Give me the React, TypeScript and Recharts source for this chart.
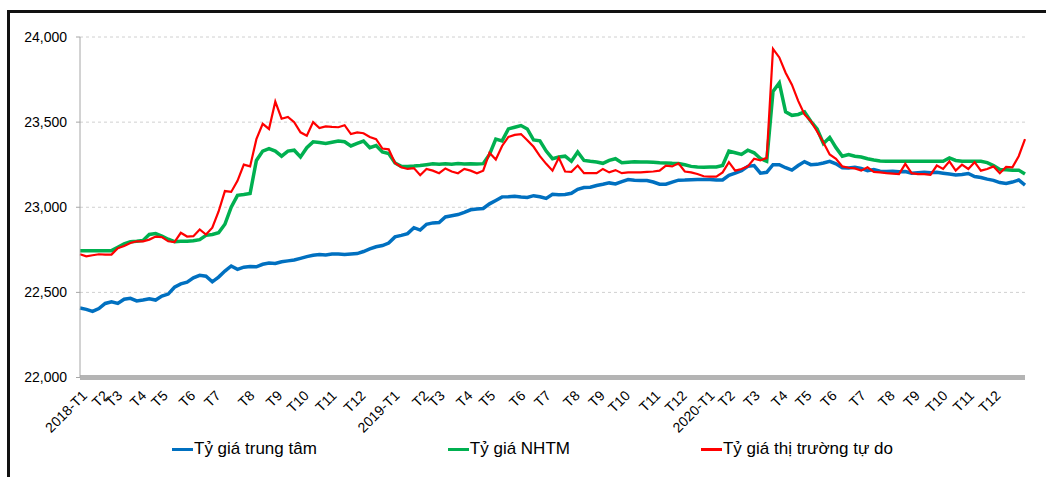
import {
  CartesianGrid,
  Legend,
  Line,
  LineChart,
  ReferenceLine,
  XAxis,
  YAxis,
} from "recharts";

const FONT = "'Liberation Sans', Arial, sans-serif";

// month labels on the category axis and the trading-day index where each month starts
const monthLabels = [
  "2018-T1", "T2", "T3", "T4", "T5", "T6", "T7", "T8", "T9", "T10", "T11", "T12",
  "2019-T1", "T2", "T3", "T4", "T5", "T6", "T7", "T8", "T9", "T10", "T11", "T12",
  "2020-T1", "T2", "T3", "T4", "T5", "T6", "T7", "T8", "T9", "T10", "T11", "T12",
];
const monthStartDay = [
  0, 17, 28, 47, 64, 86, 106, 133, 155, 176, 198, 221,
  248, 271, 284, 306, 324, 348, 368, 391, 411, 431, 455, 476,
  498, 514, 534, 556, 575, 595, 618, 641, 661, 683, 704, 725,
];

const yTicks = [22000, 22500, 23000, 23500, 24000];

// one reading every 5 trading days (roughly weekly)
const STEP = 5;

const tyGiaTrungTam = [
  22408, 22400, 22388, 22405, 22435, 22445, 22435, 22460, 22465, 22450,
  22455, 22462, 22455, 22478, 22490, 22530, 22550, 22560, 22585, 22600,
  22595, 22562, 22590, 22625, 22655, 22635, 22648, 22652, 22650, 22665,
  22673, 22670, 22680, 22685, 22690, 22700, 22710, 22718, 22722, 22720,
  22725, 22725, 22722, 22726, 22728, 22740, 22755, 22768, 22775, 22790,
  22826, 22835, 22845, 22880, 22866, 22900, 22908, 22910, 22943, 22950,
  22957, 22970, 22985, 22990, 22993, 23020, 23040, 23061, 23062, 23065,
  23060, 23057, 23068, 23062, 23052, 23076, 23073, 23075, 23082, 23105,
  23116, 23118, 23128, 23135, 23143, 23137, 23150, 23163, 23158, 23157,
  23157, 23148, 23135, 23135, 23148, 23159, 23160, 23162, 23163, 23163,
  23163, 23160, 23160, 23188, 23200, 23215, 23240, 23245, 23200, 23205,
  23250, 23250, 23232, 23218, 23245, 23268, 23250, 23252, 23260, 23270,
  23255, 23232, 23230, 23235, 23228, 23215, 23222, 23212, 23210, 23212,
  23208, 23210, 23200, 23203, 23205, 23202, 23205, 23200, 23195, 23190,
  23192, 23198, 23180, 23175, 23165, 23158, 23145, 23140, 23148, 23160, 23130,
];

const tyGiaNHTM = [
  22745, 22745, 22745, 22745, 22745, 22745, 22765, 22785, 22797, 22800,
  22805, 22840, 22845, 22830, 22812, 22798, 22800, 22800, 22803, 22810,
  22835, 22840, 22850, 22900, 23000, 23070, 23075, 23081, 23275, 23330,
  23345, 23330, 23300, 23330, 23335, 23295, 23350, 23384, 23380, 23375,
  23382, 23389, 23385, 23360, 23375, 23389, 23350, 23362, 23325, 23315,
  23260, 23240, 23240, 23242, 23245, 23250, 23255, 23252, 23255, 23253,
  23257, 23254, 23255, 23254, 23256, 23310, 23400, 23390, 23460, 23470,
  23480, 23460, 23395, 23390, 23330, 23285, 23295, 23300, 23270, 23325,
  23275, 23270, 23266, 23258, 23275, 23285, 23262, 23265, 23267, 23266,
  23266, 23265, 23262, 23260, 23258, 23257, 23250, 23240, 23236, 23235,
  23236, 23237, 23245, 23330, 23320, 23310, 23335, 23320, 23286, 23270,
  23680, 23730, 23560, 23540, 23545, 23560, 23505, 23460, 23375, 23410,
  23350, 23300, 23310, 23300, 23295, 23285, 23278, 23272, 23270, 23270,
  23270, 23270, 23270, 23270, 23270, 23270, 23270, 23270, 23290, 23275,
  23270, 23270, 23270, 23270, 23262, 23245, 23222, 23220, 23218, 23218, 23195,
];

const tyGiaTuDo = [
  22724, 22712, 22718, 22724, 22722, 22722, 22760, 22772, 22790, 22800,
  22800, 22810, 22828, 22825, 22800, 22795, 22850, 22828, 22830, 22870,
  22840, 22880, 22975, 23095, 23090, 23155, 23250, 23240, 23400, 23490,
  23460, 23620, 23520, 23530, 23500, 23440, 23420, 23500, 23465, 23475,
  23472, 23470, 23482, 23430, 23440, 23435, 23413, 23400, 23345, 23340,
  23260, 23235, 23225, 23230, 23188, 23225, 23215, 23200, 23228, 23210,
  23200, 23225, 23215, 23200, 23215, 23320, 23280, 23360, 23413, 23425,
  23430, 23394, 23355, 23300, 23255, 23215, 23290, 23210, 23208, 23245,
  23200, 23200, 23200, 23225, 23205, 23218, 23200, 23205, 23205, 23205,
  23208, 23210, 23215, 23245, 23240, 23258, 23210, 23205, 23195, 23182,
  23180, 23180, 23205, 23265, 23215, 23225, 23240, 23285, 23275, 23290,
  23930, 23880, 23790, 23720, 23625, 23545, 23505, 23445, 23380, 23310,
  23285, 23240, 23232, 23228, 23215, 23235, 23208, 23205, 23200, 23198,
  23195, 23255, 23200, 23195, 23195, 23190, 23245, 23225, 23270, 23215,
  23250, 23225, 23265, 23215, 23225, 23240, 23200, 23237, 23235, 23300, 23400,
];

const series = [
  { key: "tt", name: "Tỷ giá trung tâm", color: "#0070C0", width: 3.5 },
  { key: "nhtm", name: "Tỷ giá NHTM", color: "#00B050", width: 3.5 },
  { key: "tudo", name: "Tỷ giá thị trường tự do", color: "#FF0000", width: 2.2 },
];

const rows = tyGiaTrungTam.map((tt, i) => ({
  d: i * STEP,
  tt,
  nhtm: tyGiaNHTM[i],
  tudo: tyGiaTuDo[i],
}));

const MonthTick = (props: any) => {
  const { x, y, payload } = props;
  const label = monthLabels[monthStartDay.indexOf(payload.value)];
  return (
    <g transform={`translate(${x + 8},${y + 17})`}>
      <text
        textAnchor="end"
        transform="rotate(-45)"
        fontSize={14}
        fontFamily={FONT}
        fill="#000"
      >
        {label}
      </text>
    </g>
  );
};

// keep the legend in series order (recharts sorts it by name otherwise)
const renderLegend = () => (
  <div
    style={{
      display: "flex",
      paddingLeft: 172,
      gap: 131,
      fontFamily: FONT,
      fontSize: 17,
      color: "#000",
    }}
  >
    {series.map((s) => (
      <div key={s.key} style={{ display: "flex", alignItems: "center" }}>
        <span
          style={{
            display: "inline-block",
            width: 21,
            height: 3,
            background: s.color,
            marginRight: 1,
          }}
        />
        <span>{s.name}</span>
      </div>
    ))}
  </div>
);

export default function App() {
  return (
    <div
      style={{
        position: "relative",
        width: 1046,
        height: 477,
        overflow: "hidden",
        background: "#fff",
      }}
    >
      <style>{"body{margin:0;overflow:hidden}"}</style>
      <div
        style={{
          position: "absolute",
          left: 7,
          top: 10,
          width: 1100,
          height: 600,
          border: "3px solid #111",
          boxSizing: "border-box",
        }}
      />
      <div style={{ position: "absolute", left: 0, top: 0 }}>
        <LineChart
          width={1046}
          height={477}
          data={rows}
          margin={{ top: 37, right: 21, bottom: 0, left: 8 }}
        >
          <CartesianGrid vertical={false} stroke="#d0d0d0" strokeDasharray="3 3" />
          <XAxis
            dataKey="d"
            type="number"
            domain={[0, 750]}
            ticks={monthStartDay}
            interval={0}
            tick={<MonthTick />}
            tickLine={false}
            tickSize={0}
            height={99.5}
            axisLine={{ stroke: "#b4b4b4", strokeWidth: 5 }}
          />
          <YAxis
            domain={[22000, 24000]}
            ticks={yTicks}
            width={72}
            tickSize={4}
            tickMargin={9}
            tickFormatter={(v: number) => v.toLocaleString("en-US")}
            tick={{ fontSize: 14, fontFamily: FONT, fill: "#000" }}
            axisLine={{ stroke: "#a6a6a6" }}
            tickLine={{ stroke: "#a6a6a6" }}
          />
          <ReferenceLine
            y={22000}
            stroke="#8c8c8c"
            strokeWidth={5}
            strokeDasharray="1 1.5"
          />
          <Legend
            layout="horizontal"
            verticalAlign="middle"
            align="center"
            wrapperStyle={{ top: 439, left: 0, width: 1046 }}
            content={renderLegend}
          />
          {series.map((s) => (
            <Line
              key={s.key}
              name={s.name}
              dataKey={s.key}
              stroke={s.color}
              strokeWidth={s.width}
              dot={false}
              isAnimationActive={false}
            />
          ))}
        </LineChart>
      </div>
    </div>
  );
}
